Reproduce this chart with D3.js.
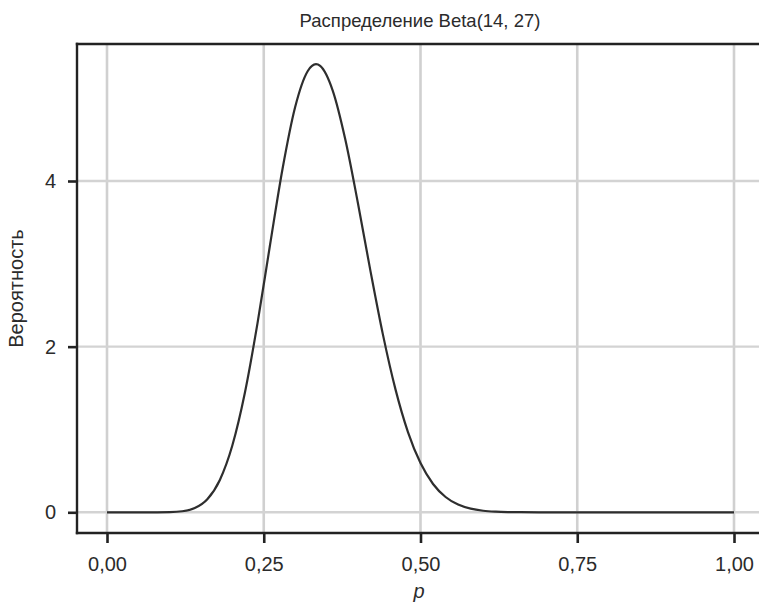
<!DOCTYPE html>
<html>
<head>
<meta charset="utf-8">
<script src="https://cdn.jsdelivr.net/npm/d3@7"></script>
<style>
  html, body { margin: 0; padding: 0; background: #fff; }
  svg { display: block; }
  text { font-family: "Liberation Sans", Arial, sans-serif; fill: #2b2b2b; }
</style>
</head>
<body>
<svg id="chart" width="759" height="603"></svg>
<script>
// Beta(14, 27) density sampled along p
const pValues = [0, 0.04, 0.06, 0.08, 0.10, 0.12, 0.14, 0.16, 0.18, 0.20, 0.22, 0.24, 0.26, 0.28,
  0.30, 0.32, 0.3333, 0.34, 0.36, 0.38, 0.40, 0.42, 0.44, 0.46, 0.48, 0.50, 0.52, 0.54,
  0.56, 0.58, 0.60, 0.62, 0.64, 0.66, 0.70, 0.75, 0.80, 0.90, 1.00];
const density = [0, 0, 0.00001, 0.0002, 0.0021, 0.0126, 0.0514, 0.158, 0.391, 0.809, 1.446, 2.281, 3.227, 4.148,
  4.890, 5.325, 5.410, 5.389, 5.091, 4.503, 3.740, 2.921, 2.148, 1.487, 0.969, 0.594, 0.342, 0.185,
  0.093, 0.044, 0.019, 0.0078, 0.0029, 0.001, 0.0001, 0, 0, 0, 0];

const xTicks = [0, 0.25, 0.5, 0.75, 1];
const xTickLabels = ["0,00", "0,25", "0,50", "0,75", "1,00"];
const yTicks = [0, 2, 4];
const yTickLabels = ["0", "2", "4"];

const titleText = "Распределение Beta(14, 27)";
const xTitle = "p";
const yTitle = "Вероятность";

const svg = d3.select("#chart");
const FONT = "'Liberation Sans', Arial, sans-serif";

// panel extent (continues past the right edge of the canvas)
const panel = { left: 77, top: 44, right: 764, bottom: 533 };

const x = d3.scaleLinear().domain([0, 1]).range([107, 734]);
const y = d3.scaleLinear().domain([0, 4]).range([512.3, 181]);

// grid
const grid = svg.append("g");
grid.selectAll("line.vx").data(xTicks).join("line")
  .attr("x1", d => x(d)).attr("x2", d => x(d))
  .attr("y1", panel.top).attr("y2", panel.bottom)
  .attr("stroke", "#d0d0d0").attr("stroke-width", 2.6);
grid.selectAll("line.hy").data(yTicks).join("line")
  .attr("x1", panel.left).attr("x2", panel.right)
  .attr("y1", d => y(d)).attr("y2", d => y(d))
  .attr("stroke", "#d3d3d3").attr("stroke-width", 2.4);

// density curve
const points = pValues.map((p, i) => [p, density[i]]);
svg.append("path")
  .datum(points)
  .attr("fill", "none")
  .attr("stroke", "#2e2e2e")
  .attr("stroke-width", 2.2)
  .attr("d", d3.line().x(d => x(d[0])).y(d => y(d[1])).curve(d3.curveMonotoneX));

// top border
svg.append("line").attr("x1", panel.left - 1.2).attr("x2", panel.right)
  .attr("y1", panel.top).attr("y2", panel.top)
  .attr("stroke", "#222").attr("stroke-width", 2.4);

// x axis
const xAxis = svg.append("g")
  .attr("transform", `translate(0,${panel.bottom})`)
  .call(d3.axisBottom(x).tickValues(xTicks).tickFormat((d, i) => xTickLabels[i])
    .tickSizeInner(10).tickSizeOuter(0).tickPadding(14));
xAxis.select(".domain").remove();
xAxis.append("line").attr("x1", panel.left - 1.2).attr("x2", panel.right)
  .attr("stroke", "#222").attr("stroke-width", 2.4);
xAxis.selectAll(".tick line").attr("stroke", "#222").attr("stroke-width", 2.6);
xAxis.selectAll(".tick text").attr("font-size", 20).attr("fill", "#2b2b2b")
  .style("font-family", FONT);

// y axis
const yAxis = svg.append("g")
  .attr("transform", `translate(${panel.left},0)`)
  .call(d3.axisLeft(y).tickValues(yTicks).tickFormat((d, i) => yTickLabels[i])
    .tickSizeInner(9).tickSizeOuter(0).tickPadding(12));
yAxis.select(".domain").remove();
yAxis.append("line").attr("y1", panel.top - 1.2).attr("y2", panel.bottom + 1.2)
  .attr("stroke", "#222").attr("stroke-width", 2.4);
yAxis.selectAll(".tick line").attr("stroke", "#222").attr("stroke-width", 2.6);
yAxis.selectAll(".tick text").attr("font-size", 20).attr("fill", "#2b2b2b")
  .style("font-family", FONT);

// titles
svg.append("text")
  .attr("x", 420).attr("y", 26.5)
  .attr("text-anchor", "middle").attr("font-size", 18.5)
  .text(titleText);

svg.append("text")
  .attr("x", 419).attr("y", 598)
  .attr("text-anchor", "middle").attr("font-size", 20).attr("font-style", "italic")
  .text(xTitle);

svg.append("text")
  .attr("transform", `translate(22.5,${(panel.top + panel.bottom) / 2}) rotate(-90)`)
  .attr("text-anchor", "middle").attr("font-size", 20)
  .text(yTitle);
</script>
</body>
</html>
